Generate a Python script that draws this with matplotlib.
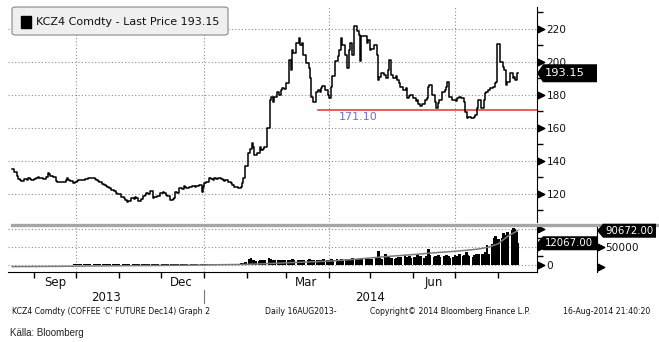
"""
KCZ4 coffee future: daily price with volume / open interest panel, Bloomberg style.
"""
import numpy as np
import pandas as pd
import matplotlib
matplotlib.use('Agg')
import matplotlib.pyplot as plt
import matplotlib.transforms as mtrans
from matplotlib.patches import FancyBboxPatch, Rectangle, Polygon
from matplotlib.lines import Line2D

# ---- data ----
first_day = '2013-08-16'
last_day = '2014-08-15'

# daily closes, Aug 16 2013, then one row per week (Mon..Fri)
close = [135.0,
         133.0, 131.0, 129.0, 128.5, 128.0,
         129.0, 128.5, 129.5, 129.0, 128.5,
         129.0, 129.5, 130.0, 129.5, 129.7,
         129.0, 130.0, 132.5, 132.0, 131.0,
         130.0, 128.0, 127.0, 127.3, 127.5,
         127.3, 128.5, 129.7, 128.5, 128.0,
         126.7, 127.5, 128.0, 128.5, 128.2,
         128.5, 129.0, 128.8, 129.5, 129.7,
         129.7, 129.0, 128.5, 128.0, 127.0,
         126.0, 125.5, 125.0, 124.2, 123.6,
         122.5, 121.5, 120.6, 120.2, 120.0,
         118.2, 117.5, 116.5, 115.2, 116.0,
         117.6, 117.0, 118.2, 117.5, 115.8,
         117.0, 118.5, 119.4, 120.6, 120.0,
         121.8, 117.6, 118.0, 118.2, 119.0,
         120.5, 121.2, 120.5, 119.4, 119.0,
         116.4, 117.0, 117.6, 121.2, 120.5,
         123.6, 122.8, 124.8, 124.0, 123.5,
         124.2, 125.0, 124.8, 124.5, 125.0,
         125.5, 121.2, 124.0, 126.7, 127.5,
         129.7, 129.0, 128.5, 129.7, 129.2,
         129.7, 129.0, 128.5, 128.0, 128.5,
         127.5, 126.5, 125.5, 124.5, 124.0,
         123.6, 124.0, 126.7, 129.7, 137.0,
         144.8, 147.0, 151.0, 148.5, 143.6,
         145.0, 148.5, 146.7, 147.5, 148.5,
         160.0, 177.0, 178.8, 175.8, 179.0,
         181.8, 180.0, 183.0, 184.2, 183.5,
         187.3, 201.2, 195.0, 207.3, 205.5,
         211.5, 214.5, 210.3, 211.5, 204.2,
         199.4, 196.4, 190.3, 178.8, 175.8,
         181.8, 183.0, 182.0, 184.2, 185.5,
         183.0, 180.0, 178.2, 185.0, 191.5,
         200.6, 203.6, 207.3, 214.5, 210.3,
         204.2, 196.4, 207.3, 211.5, 204.2,
         221.8, 218.8, 216.4, 200.6, 215.8,
         215.8, 211.5, 213.0, 207.3, 208.0,
         210.3, 204.2, 189.0, 191.0, 193.3,
         192.0, 190.3, 195.0, 201.2, 192.0,
         190.3, 191.5, 189.0, 187.3, 185.0,
         183.0, 184.2, 178.2, 179.4, 180.0,
         178.0, 176.4, 177.0, 174.5, 173.3,
         174.5, 177.0, 178.2, 184.9, 186.0,
         180.0, 176.0, 172.1, 175.0, 177.0,
         181.8, 183.0, 184.9, 188.0, 178.8,
         177.0, 177.0, 176.5, 178.2, 178.5,
         178.0, 175.8, 169.7, 166.0, 166.7,
         166.0, 166.7, 167.9, 172.0, 177.0,
         172.1, 177.0, 181.2, 182.0, 183.0,
         184.0, 184.9, 187.3, 188.0, 211.0,
         200.0, 197.0, 195.2, 186.0, 188.0,
         193.3, 190.3, 191.0, 189.0, 193.15]

# daily volume, contracts
volume = [50,
          40, 60, 50, 80, 70,
          60, 100, 70, 90, 120,
          90, 100, 60, 120, 100,
          110, 150, 130, 100, 170,
          130, 190, 150, 170, 130,
          150, 210, 170, 190, 230,
          320, 380, 250, 340, 300,
          270, 360, 320, 250, 340,
          300, 380, 270, 320, 360,
          340, 250, 400, 300, 320,
          360, 270, 340, 380, 300,
          320, 400, 340, 270, 360,
          380, 300, 340, 420, 320,
          340, 400, 300, 360, 380,
          320, 360, 270, 250, 340,
          420, 360, 400, 460, 380,
          400, 490, 360, 440, 510,
          460, 550, 420, 510, 440,
          380, 320, 250, 420, 400,
          530, 440, 590, 630, 550,
          680, 590, 740, 630, 610,
          650, 760, 610, 700, 800,
          720, 630, 780, 680, 740,
          800, 890, 760, 1160, 1900,
          3380, 3800, 2950, 2530, 2110,
          2110, 2530, 2320, 2740, 2530,
          4010, 3380, 2740, 2530, 2740,
          2740, 2320, 2530, 2950, 2530,
          2740, 2950, 2320, 3170, 2530,
          2950, 2530, 2740, 2320, 2950,
          2530, 3170, 2740, 2950, 2530,
          2740, 2320, 2950, 2530, 3170,
          2950, 2530, 2740, 3170, 2740,
          3380, 2950, 2740, 3170, 2950,
          3170, 2740, 3590, 2950, 3800,
          3170, 3590, 3380, 2740, 3590,
          3380, 3800, 3170, 3590, 3380,
          3800, 3380, 8020, 4010, 3590,
          6330, 3800, 4220, 3590, 4010,
          3590, 4010, 4640, 3800, 4220,
          5490, 4010, 4220, 4850, 3800,
          4430, 4010, 5280, 4220, 4850,
          4010, 5060, 4430, 9070, 5490,
          4220, 4850, 4010, 5280, 4640,
          5060, 4220, 5700, 4850, 4010,
          4640, 5490, 4220, 5060, 5910,
          4850, 5700, 6960, 5280, 5060,
          4640, 5490, 6120, 5060, 5910,
          6330, 5700, 6960, 10970, 5910,
          11600, 14770, 16040, 13080, 14350,
          15190, 17720, 16460, 16880, 18150,
          19410, 20470, 20050, 18570, 12067]

# weekly open interest (Fridays), thousands of contracts
open_int_k = [1.0, 1.1, 1.2, 1.4, 1.5, 1.7, 1.9, 2.3, 2.5, 2.7, 2.9, 3.1, 3.3,
              3.5, 3.7, 3.9, 4.1, 4.3, 4.6, 4.9, 5.2, 5.6, 5.9, 6.2, 6.5, 7.4,
              8.3, 9.2, 10.2, 11.2, 12.1, 13.0, 14.0, 15.2, 17.0, 18.9, 20.8,
              22.9, 25.0, 27.0, 28.8, 30.6, 32.5, 34.8, 36.5, 38.3, 40.2, 42.5,
              45.0, 49.5, 58.0, 77.0, 90.672]

last_price = 193.15
low_price = 171.10
low_day = '2014-03-24'
last_volume = 12067.00
last_oi = 90672.00

price_ticks = [120, 140, 160, 180, 200, 220]
month_labels = ['Sep', 'Dec', 'Mar', 'Jun']
month_label_days = ['2013-09-16', '2013-12-16', '2014-03-16', '2014-06-16']
grid_days = ['2013-10-01', '2014-01-01', '2014-04-01', '2014-07-01']

days = pd.bdate_range(first_day, last_day)
oi_days = pd.date_range(first_day, last_day, freq='W-FRI')
open_int = np.array(open_int_k) * 1000

# ---- figure ----
W, H = 659, 342
fig = plt.figure(figsize=(W / 100, H / 100), dpi=100)
plt.rcParams['font.family'] = 'DejaVu Sans'

left, right = 8, 537
pw = right - left
ax = fig.add_axes([left / W, 1 - 222 / H, pw / W, 215 / H])
axv = fig.add_axes([left / W, 1 - 272 / H, pw / W, 46 / H], sharex=ax)
axo = axv.twinx()  # open interest, own scale

x0, x1 = pd.Timestamp('2013-08-13'), pd.Timestamp('2014-08-29')
ax.set_xlim(x0, x1)
ax.set_ylim(103, 233.3)
axv.set_ylim(-3900, 21650)
axo.set_ylim(-12500, 102500)

grid_kw = dict(color='#8c8c8c', lw=0.8, ls=(0, (1, 2)), zorder=0)
tick_font = 7.6
dark = '#111111'
pix = mtrans.IdentityTransform()


def value_tag(a, yval, label, x_left, x_right, h, fs):
    # black Bloomberg-style tag pointing at the spine, in pixel coords
    yd = a.transData.transform((a.get_xlim()[0], yval))[1]
    fig.add_artist(Polygon([(x_left, yd), (x_left + 6, yd + h / 2), (x_right, yd + h / 2),
                            (x_right, yd - h / 2), (x_left + 6, yd - h / 2)],
                           closed=True, transform=pix, fc='black', ec='none', zorder=10))
    fig.text(x_left + 8, yd, label, transform=pix, color='white', fontsize=fs,
             va='center', ha='left', zorder=11)


# price panel
for s in ['top', 'left', 'bottom']:
    ax.spines[s].set_visible(False)
for p in price_ticks:
    ax.axhline(p, **grid_kw)
for d in grid_days:
    ax.axvline(pd.Timestamp(d), **grid_kw)
    axv.axvline(pd.Timestamp(d), **grid_kw)

ax.plot(days, close, color='black', lw=1.1, drawstyle='steps-mid', zorder=3)
ax.plot([pd.Timestamp(low_day), x1], [low_price, low_price], color='#e8413c', lw=1.2, zorder=2)
ax.annotate(f'{low_price:.2f}', xy=(pd.Timestamp('2014-04-22'), low_price), xytext=(0, -2),
            textcoords='offset points', ha='center', va='top', color='#6f6fd6', fontsize=8)

ax.yaxis.tick_right()
ax.set_yticks(price_ticks)
ax.set_yticks(np.arange(110, 240, 20), minor=True)
ax.tick_params(axis='y', which='major', length=0, pad=7, labelsize=tick_font, labelcolor=dark)
ax.tick_params(axis='y', which='minor', length=4, width=1, color='black')
ax.tick_params(axis='x', which='both', bottom=False, labelbottom=False)
tr = mtrans.blended_transform_factory(ax.transAxes, ax.transData)
ax.scatter([1 + 4 / pw] * len(price_ticks), price_ticks, marker='>', s=22, color='black',
           transform=tr, clip_on=False, zorder=5)

# legend box
fig.patches.append(FancyBboxPatch((12 / W, 1 - 35 / H), 216 / W, 28 / H,
                                  boxstyle='round,pad=0,rounding_size=0.006',
                                  transform=fig.transFigure, fc='#efefef', ec='#8a8a8a', lw=0.8))
fig.patches.append(Rectangle((21 / W, 1 - 28 / H), 10 / W, 12 / H, transform=fig.transFigure,
                             fc='black', ec='black'))
fig.text(36 / W, 1 - 22 / H, f'KCZ4 Comdty - Last Price {last_price:.2f}', fontsize=8,
         va='center', ha='left', color=dark)

# volume panel
for s in ['top', 'left']:
    axv.spines[s].set_visible(False)
for g in [0, 10000, 20000]:
    axv.axhline(g, **grid_kw)
axv.bar(days, volume, width=2.0, color='black', lw=0, zorder=2)

axv.set_yticks([0])
axv.set_yticklabels(['0'])
axv.set_yticks([5000, 15000], minor=True)
axv.tick_params(axis='y', which='major', left=False, right=True, labelleft=False, labelright=True,
                length=0, pad=7, labelsize=tick_font, labelcolor=dark)
axv.tick_params(axis='y', which='minor', left=False, right=True, length=4, width=1, color='black')
trv = mtrans.blended_transform_factory(axv.transAxes, axv.transData)
axv.scatter([1 + 4 / pw] * 3, [0, 10000, 20000], marker='>', s=22, color='black',
            transform=trv, clip_on=False, zorder=5)

month_starts = pd.date_range('2013-09-01', '2014-08-01', freq='MS')
axv.set_xticks(month_starts)
axv.set_xticklabels([''] * len(month_starts))
axv.set_xticks([pd.Timestamp(d) for d in month_label_days], minor=True)
axv.set_xticklabels(month_labels, minor=True)
axv.tick_params(axis='x', which='major', length=4, width=1, direction='out')
axv.tick_params(axis='x', which='minor', length=0, pad=3, labelsize=8.5, labelcolor=dark)

# open interest line and its spine
axo.spines['right'].set_position(('axes', 1 + 60 / pw))
for s in ['top', 'left', 'bottom']:
    axo.spines[s].set_visible(False)
axo.set_yticks([50000])
axo.set_yticklabels(['50000'])
axo.tick_params(axis='y', length=0, pad=6, labelsize=tick_font, labelcolor=dark)
axo.plot(oi_days, open_int, color='#7a7a7a', lw=1.1, zorder=3)
tro = mtrans.blended_transform_factory(axo.transAxes, axo.transData)
axo.scatter([1 + 64 / pw] * 2, [0, 50000], marker='>', s=22, color='black', transform=tro,
            clip_on=False)

# value tags
value_tag(ax, last_price, f'{last_price:.2f}', 537, 597, 18, 8.2)
value_tag(axv, last_volume, f'{last_volume:.2f}', 537, 597, 14, 7.3)
value_tag(axo, last_oi, f'{last_oi:.2f}', 597, 656, 14, 7.3)

# panel separator
fig.add_artist(Line2D([12 / W, 1], [1 - 225 / H, 1 - 225 / H], transform=fig.transFigure,
                      color='#a6a6a6', lw=2.4))

# years under the axis
tx = mtrans.blended_transform_factory(axv.transData, axv.transAxes)
year_edge = pd.Timestamp('2014-01-01')
axv.text(x0 + (year_edge - x0) / 2, -0.55, '2013', transform=tx, ha='center', va='center',
         fontsize=8.5, color=dark)
axv.text(year_edge + (x1 - year_edge) / 2, -0.55, '2014', transform=tx, ha='center',
         va='center', fontsize=8.5, color=dark)
axv.plot([year_edge, year_edge], [-0.39, -0.67], transform=tx, color='#777777', lw=0.8,
         clip_on=False)

# footer
foot = 1 - 311 / H
fig.text(12 / W, foot, "KCZ4 Comdty (COFFEE 'C' FUTURE Dec14) Graph 2", fontsize=5.6,
         va='center', color=dark)
fig.text(265 / W, foot, 'Daily 16AUG2013-', fontsize=5.6, va='center', color=dark)
fig.text(370 / W, foot, 'Copyright\u00a9 2014 Bloomberg Finance L.P.', fontsize=5.6,
         va='center', color=dark)
fig.text(563 / W, foot, '16-Aug-2014 21:40:20', fontsize=5.6, va='center', color=dark)
fig.text(10 / W, 1 - 333 / H, 'Källa: Bloomberg', fontsize=7, family='Liberation Sans',
         va='center', color='#222222')

fig.savefig('out.png', dpi=100)
